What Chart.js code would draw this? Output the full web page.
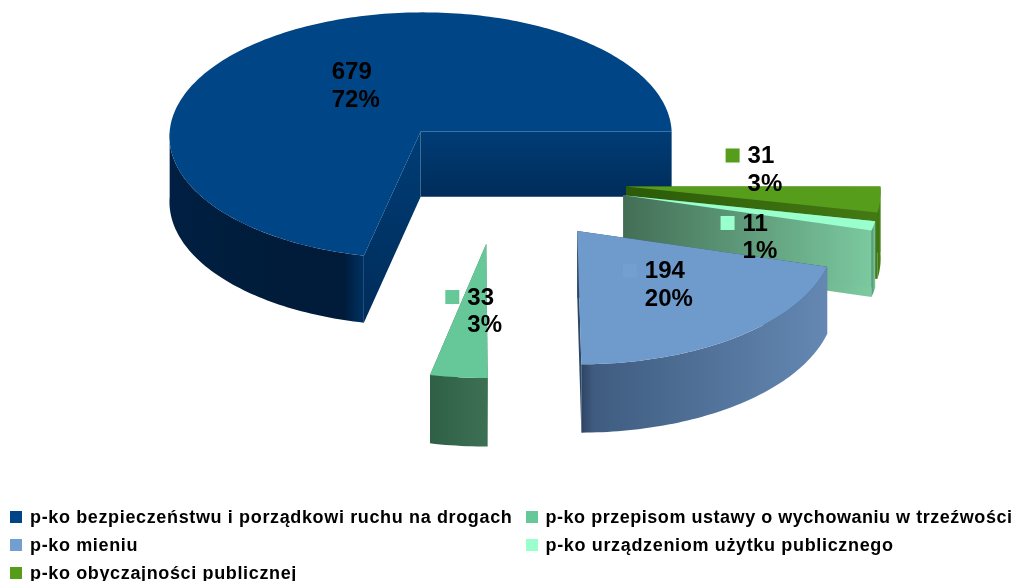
<!DOCTYPE html>
<html lang="pl"><head><meta charset="utf-8">
<style>
html,body{margin:0;padding:0;background:#fff;width:1013px;height:581px;overflow:hidden}
#wrap{position:relative;width:1013px;height:581px}
canvas{position:absolute;left:0;top:0}
#legend{position:absolute;left:10px;top:503px;display:grid;grid-template-columns:515.5px 480px;grid-auto-rows:28px;
font:bold 18px "Liberation Sans",Arial,sans-serif;letter-spacing:.64px;color:#000;white-space:nowrap}
#legend div{display:flex;align-items:center}
#legend i{display:block;width:12px;height:12px;margin-right:8px;flex:none}
</style></head><body>
<div id="wrap"><canvas id="c" width="1013" height="581"></canvas><div id="legend"></div></div>
<script src="https://cdn.jsdelivr.net/npm/chart.js@4"></script>
<script>
// Data (legend order)
const categories = [
  "p-ko bezpieczeństwu i porządkowi ruchu na drogach",
  "p-ko przepisom ustawy o wychowaniu w trzeźwości",
  "p-ko mieniu",
  "p-ko urządzeniom użytku publicznego",
  "p-ko obyczajności publicznej"
];
const values = [679, 33, 194, 11, 31];
const colors = ["#004586", "#66c799", "#729fcf", "#99ffcc", "#579d1c"];
const topColors = ["#004586", "#66c799", "#6e9bcb", "#99ffcc", "#579d1c"];
// Style per slice: wall gradient stops, left to right
const outerWall = [
  [[0,"#001f42"],[0.55,"#001c3a"],[0.9,"#001c3a"],[1,"#003264"]],
  [[0,"#2f6046"],[1,"#3c7053"]],
  [[0,"#2e4464"],[0.05,"#3f5c80"],[1,"#6488b3"]],
  [[0,"#4c8f6d"],[1,"#7ccaa0"]],
  [[0,"#3d6e14"],[1,"#4a8518"]]
];
const radialWall = [
  [[0,"#003d76"],[1,"#002c5a"]],
  [[0,"#3c7053"],[1,"#3c7053"]],
  [[0,"#2e4868"],[1,"#2e4868"]],
  [[0,"#436e56"],[1,"#7ccaa0"]],
  [[0,"#2c5a08"],[1,"#447a14"]]
];
const labelNudge = [0, 0, 0, 25, -25];
const legendSpacing = [0.64, 0.53, 0.64, 0.66, 0.64];

// Projection of the pie plane (tilted, slight perspective)
const EXPLODE = 127, RADIUS = 254, DEPTH = 66;
const TILT = 0.497, TILT2 = 6.2e-5, PERSP = 1.2e-4, DEPTH_P = 1.0e-4;

// Chart.js draws clockwise from the start angle; the reference runs the other way
const order = values.map((_, i) => i).reverse();

function project(arc, x, y, z) {
  const u = x - arc.x, v = y - arc.y;
  return {
    x: arc.x + u * (1 + PERSP * v),
    y: arc.y + TILT * v + TILT2 * v * v + (z ? DEPTH * (1 + DEPTH_P * v) : 0)
  };
}
function geom(arc) {
  const p = arc.getProps(["x","y","startAngle","endAngle","outerRadius"]);
  const off = (arc.options.offset || 0) / 4;
  const mid = (p.startAngle + p.endAngle) / 2;
  const ax = p.x + Math.cos(mid) * off, ay = p.y + Math.sin(mid) * off;
  return {c: p, ax, ay, r: p.outerRadius, a0: p.startAngle, a1: p.endAngle, mid};
}
const rim = (g, a) => [g.ax + Math.cos(a) * g.r, g.ay + Math.sin(a) * g.r];

function pathThrough(ctx, pts) {
  pts.forEach((q, i) => i ? ctx.lineTo(q.x, q.y) : ctx.moveTo(q.x, q.y));
  ctx.closePath();
}
function grad(ctx, pts, stops, vertical) {
  const vals = pts.map(q => vertical ? q.y : q.x);
  const lo = Math.min(...vals), hi = Math.max(...vals);
  const gr = vertical ? ctx.createLinearGradient(0, lo, 0, hi) : ctx.createLinearGradient(lo, 0, hi, 0);
  stops.forEach(s => gr.addColorStop(s[0], s[1]));
  return gr;
}
function sample(a0, a1) {
  const n = Math.max(2, Math.ceil(Math.abs(a1 - a0) / 0.02)), out = [];
  for (let i = 0; i <= n; i++) out.push(a0 + (a1 - a0) * i / n);
  return out;
}
function drawSlice(ctx, arc, idx) {
  const g = geom(arc), P = (xy, z) => project(g.c, xy[0], xy[1], z), apex = [g.ax, g.ay];
  const rw = radialWall[idx], ow = outerWall[idx];
  const isMain = idx === 0;
  [g.a1, g.a0].forEach(a => {
    const pts = [P(apex,0), P(rim(g,a),0), P(rim(g,a),1), P(apex,1)];
    ctx.beginPath(); pathThrough(ctx, pts);
    ctx.fillStyle = grad(ctx, pts, rw, isMain); ctx.fill();
  });
  // outer wall: only the part that faces the viewer
  const twoPi = Math.PI * 2;
  for (const [lo, hi] of [[0, Math.PI], [twoPi, twoPi + Math.PI]]) {
    const s = Math.max(g.a0, lo), e = Math.min(g.a1, hi);
    if (e <= s) continue;
    const as = sample(s, e);
    const pts = as.map(a => P(rim(g,a),0)).concat(as.slice().reverse().map(a => P(rim(g,a),1)));
    ctx.beginPath(); pathThrough(ctx, pts);
    ctx.fillStyle = grad(ctx, pts, ow); ctx.fill();
  }
  // top surface
  const top = [P(apex,0)].concat(sample(g.a0, g.a1).map(a => P(rim(g,a),0)));
  ctx.beginPath(); pathThrough(ctx, top);
  ctx.fillStyle = topColors[idx]; ctx.fill();
}
function drawLabel(ctx, arc, idx) {
  const g = geom(arc);
  const m = project(g.c, g.ax + Math.cos(g.mid) * g.r / 2, g.ay + Math.sin(g.mid) * g.r / 2, 0);
  const total = values.reduce((s, x) => s + x, 0);
  const l1 = String(values[idx]), l2 = Math.round(values[idx] / total * 100) + "%";
  ctx.font = 'bold 24px "Liberation Sans", Arial, sans-serif';
  const tw = Math.max(ctx.measureText(l1).width, ctx.measureText(l2).width);
  const bw = 22 + tw, left = m.x - bw / 2 + 1, cy = m.y + labelNudge[idx];
  ctx.fillStyle = colors[idx];
  ctx.fillRect(left, cy - 19.5, 14, 14);
  ctx.fillStyle = "#000"; ctx.textBaseline = "middle"; ctx.textAlign = "left";
  ctx.fillText(l1, left + 22, cy - 11.5);
  ctx.fillText(l2, left + 22, cy + 16);
}
const pie3d = {
  id: "pie3d",
  beforeDatasetsDraw(chart) {
    const ctx = chart.ctx, arcs = chart.getDatasetMeta(0).data;
    ctx.save();
    // back to front: main slice, then the exploded slices from far to near
    [0, 4, 3, 2, 1].forEach(i => drawSlice(ctx, arcs[order.indexOf(i)], i));
    [0, 4, 3, 2, 1].forEach(i => drawLabel(ctx, arcs[order.indexOf(i)], i));
    ctx.restore();
    return false;
  }
};
new Chart(document.getElementById("c"), {
  type: "pie",
  plugins: [pie3d],
  data: {
    labels: order.map(i => categories[i]),
    datasets: [{
      data: order.map(i => values[i]),
      backgroundColor: order.map(i => colors[i]),
      borderWidth: 0,
      offset: EXPLODE * 4
    }]
  },
  options: {
    responsive: false, animation: false, rotation: 90, radius: RADIUS, cutout: "0%",
    layout: {padding: {right: 14, bottom: 221}},
    plugins: {legend: {display: false}, tooltip: {enabled: false}}
  }
});
const legend = document.getElementById("legend");
categories.forEach((t, i) => {
  const d = document.createElement("div"), k = document.createElement("i"), s = document.createElement("span");
  k.style.background = colors[i]; s.textContent = t; s.style.letterSpacing = legendSpacing[i] + "px";
  d.append(k, s); legend.append(d);
});
</script></body></html>
